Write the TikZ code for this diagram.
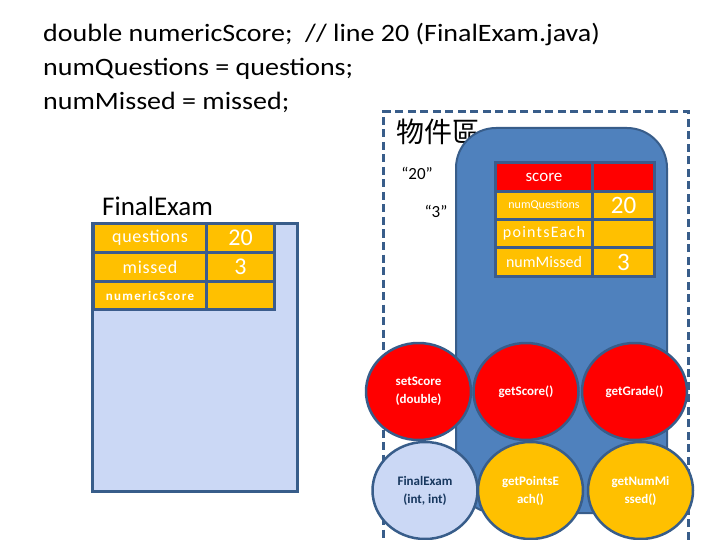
\documentclass[tikz,border=0pt]{standalone}
\usepackage{fontspec}
\setmainfont{Carlito}
\newfontfamily\cjk{Noto Sans CJK TC}
\usetikzlibrary{shapes.geometric}
\definecolor{blobfill}{HTML}{4F81BD}
\definecolor{blobdraw}{HTML}{385D8A}
\definecolor{gridc}{HTML}{3B5C8C}
\definecolor{orng}{HTML}{FFC000}
\definecolor{rd}{HTML}{FF0000}
\definecolor{texfill}{RGB}{203,216,245}
\definecolor{navy}{HTML}{17375E}
\tikzset{
  titletext/.style={anchor=base west, inner sep=0pt, font=\fontsize{25}{28}\selectfont\addfontfeatures{FakeStretch=1.12}},
  dashbox/.style={draw=blobdraw, line width=3pt, dash pattern=on 8pt off 4.5pt, fill=none, inner sep=0pt},
  blob/.style={draw=blobdraw, line width=2pt, fill=blobfill, rounded corners=40pt, inner sep=0pt},
  panel/.style={draw=blobdraw, line width=3pt, fill=texfill, inner sep=0pt},
  gridbg/.style={fill=gridc, draw=none, inner sep=0pt},
  ocell/.style={fill=orng, draw=none, inner sep=0pt, text=white},
  rcell/.style={fill=rd, draw=none, inner sep=0pt, text=white},
  meth/.style={ellipse, draw=blobdraw, line width=2.5pt, minimum width=105pt, minimum height=97pt, inner sep=0pt, align=center, font=\fontsize{13}{18}\selectfont\bfseries, text=white},
  quote/.style={inner sep=0pt, font=\fontsize{17}{20}\selectfont}
}
\begin{document}
\begin{tikzpicture}[x=1pt,y=-1pt]
\useasboundingbox (0,0) rectangle (720,540);
\clip (0,0) rectangle (720,540);
\fill[white] (0,0) rectangle (720,540);

% title code
\node[titletext] (t1) at (43,42) {double numericScore;\ \ // line 20 (FinalExam.java)};
\node[titletext] (t2) at (43,76) {numQuestions = questions;};
\node[titletext] (t3) at (43,110) {numMissed = missed;};

% object area
\node[dashbox, minimum width=305pt, minimum height=460pt] (area) at (535.5,342) {};
\node[anchor=west, inner sep=0pt, font=\cjk\fontsize{28}{30}\selectfont] (zone) at (396,132) {物件區};
\node[quote] (q20) at (417,173) {“20”};
\node[quote] (q3) at (436,211) {“3”};

% object blob
\node[blob, minimum width=211pt, minimum height=385pt] (obj) at (561.5,320.5) {};
\node[gridbg, minimum width=162pt, minimum height=117pt] (otab) at (575,219.5) {};
\node[rcell, minimum width=94pt, minimum height=26pt, font=\fontsize{17}{20}\selectfont] (score) at (544,177) {score};
\node[rcell, minimum width=59pt, minimum height=26pt] (scorev) at (623.5,177) {};
\node[ocell, minimum width=94pt, minimum height=25pt, font=\fontsize{12}{14}\selectfont] (nq) at (544,205.5) {numQuestions};
\node[ocell, minimum width=59pt, minimum height=25pt, font=\fontsize{25}{28}\selectfont] (nqv) at (623.5,205.5) {20};
\node[ocell, minimum width=94pt, minimum height=25pt, font=\fontsize{16}{18}\selectfont\addfontfeatures{LetterSpace=8}] (pe) at (544,233.5) {pointsEach};
\node[ocell, minimum width=59pt, minimum height=25pt] (pev) at (623.5,233.5) {};
\node[ocell, minimum width=94pt, minimum height=26pt, font=\fontsize{16}{18}\selectfont] (nm) at (544,262) {numMissed};
\node[ocell, minimum width=59pt, minimum height=26pt, font=\fontsize{25}{28}\selectfont] (nmv) at (623.5,262) {3};

% left FinalExam object
\node[anchor=base west, inner sep=0pt, font=\fontsize{27}{30}\selectfont] (fename) at (102,215) {FinalExam};
\node[panel, minimum width=205pt, minimum height=268pt] (fe) at (195.4,357.9) {};
\node[gridbg, minimum width=183pt, minimum height=88pt] (ltab) at (184,266.5) {};
\node[ocell, minimum width=110pt, minimum height=26pt, font=\fontsize{18}{20}\selectfont\addfontfeatures{LetterSpace=4}] (lq) at (150,238) {questions};
\node[ocell, minimum width=65pt, minimum height=26pt, font=\fontsize{24}{26}\selectfont] (lqv) at (240.5,238) {20};
\node[ocell, minimum width=110pt, minimum height=26pt, font=\fontsize{18}{20}\selectfont\addfontfeatures{LetterSpace=4}] (lm) at (150,267) {missed};
\node[ocell, minimum width=65pt, minimum height=26pt, font=\fontsize{24}{26}\selectfont] (lmv) at (240.5,267) {3};
\node[ocell, minimum width=110pt, minimum height=25pt, font=\fontsize{13}{15}\selectfont\bfseries\addfontfeatures{LetterSpace=10}] (ls) at (150,295.5) {numericScore};
\node[ocell, minimum width=65pt, minimum height=25pt] (lsv) at (240.5,295.5) {};

% methods
\node[meth, fill=rd] (set) at (418.5,391.5) {setScore\\(double)};
\node[meth, fill=rd] (gets) at (526,391.5) {getScore()};
\node[meth, fill=rd] (getg) at (634.5,391.5) {getGrade()};
\node[meth, fill=texfill, text=navy] (ctor) at (425,490.5) {FinalExam\\(int, int)};
\node[meth, fill=orng] (getp) at (530.5,490.5) {getPointsE\\ach()};
\node[meth, fill=orng] (getn) at (640.5,490.5) {getNumMi\\ssed()};
\end{tikzpicture}
\end{document}
